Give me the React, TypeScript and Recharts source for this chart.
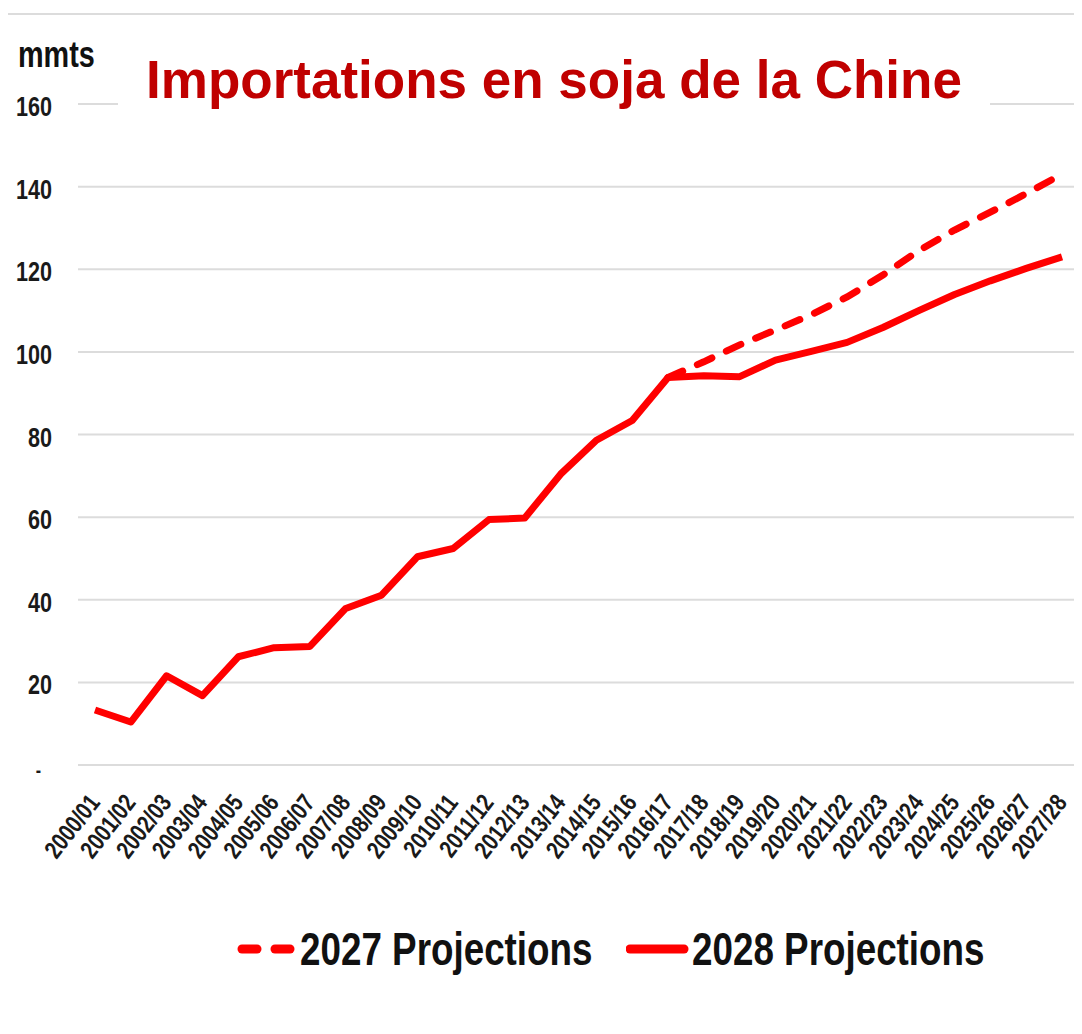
import { LineChart, Line, XAxis, YAxis, CartesianGrid } from 'recharts';

const seasons = [
  '2000/01', '2001/02', '2002/03', '2003/04', '2004/05', '2005/06', '2006/07',
  '2007/08', '2008/09', '2009/10', '2010/11', '2011/12', '2012/13', '2013/14',
  '2014/15', '2015/16', '2016/17', '2017/18', '2018/19', '2019/20', '2020/21',
  '2021/22', '2022/23', '2023/24', '2024/25', '2025/26', '2026/27', '2027/28',
];

// 2027 projections only start at 2016/17
const proj2027 = [
  null, null, null, null, null, null, null, null, null, null, null, null, null,
  null, null, null, 93.8, 97.6, 101.7, 105.3, 109, 113.3, 118.6, 124.5, 129.5,
  133.8, 138.3, 143,
];

const proj2028 = [
  13.3, 10.4, 21.6, 16.8, 26.2, 28.4, 28.7, 37.9, 41.1, 50.4, 52.4, 59.4, 59.8,
  70.4, 78.6, 83.4, 93.8, 94.2, 94, 98, 100.1, 102.3, 105.9, 110, 113.9, 117.2,
  120.2, 123,
];

const yTicks = [0, 20, 40, 60, 80, 100, 120, 140, 160];

const RED = '#ff0000';
const SANS = '"Liberation Sans", Arial, sans-serif';
// no narrow font installed, so squeeze Liberation Sans horizontally
const SQUEEZE = 0.8;

const data = seasons.map((s, i) => ({ season: s, p2027: proj2027[i], p2028: proj2028[i] }));

function YTick({ y, payload }: any) {
  const label = payload.value === 0 ? '-' : String(payload.value);
  const tx = payload.value === 0 ? 41 : 52;
  return (
    <text
      transform={`translate(${tx} ${y + 12}) scale(${SQUEEZE} 1)`}
      textAnchor="end"
      fontFamily={SANS}
      fontWeight="bold"
      fontSize={payload.value === 0 ? 20 : 27}
      fill="#1a1a1a"
    >
      {label}
    </text>
  );
}

function XTick({ x, y, payload }: any) {
  const tx = x + 6;
  const ty = y + 30;
  return (
    <text
      transform={`translate(${tx} ${ty}) rotate(-52) scale(${SQUEEZE} 1)`}
      textAnchor="end"
      fontFamily={SANS}
      fontWeight="bold"
      fontSize={25}
      fill="#1a1a1a"
    >
      {payload.value}
    </text>
  );
}

function LegendItem({ left, dashed, label }: { left: number; dashed: boolean; label: string }) {
  return (
    <div style={{ position: 'absolute', left, top: 922, display: 'flex', alignItems: 'center', whiteSpace: 'nowrap' }}>
      <svg width={66} height={20}>
        {dashed ? (
          <g stroke={RED} strokeWidth={9} strokeLinecap="round">
            <line x1={8} y1={10} x2={23} y2={10} />
            <line x1={41} y1={10} x2={56} y2={10} />
          </g>
        ) : (
          <line x1={4} y1={10} x2={58} y2={10} stroke={RED} strokeWidth={9} strokeLinecap="round" />
        )}
      </svg>
      <span
        style={{
          display: 'inline-block',
          fontFamily: SANS,
          fontWeight: 'bold',
          fontSize: 46,
          color: '#111',
          transform: `scaleX(${SQUEEZE})`,
          transformOrigin: 'left center',
        }}
      >
        {label}
      </span>
    </div>
  );
}

export default function App() {
  return (
    <div style={{ position: 'relative', width: 1082, height: 1034, margin: -8, overflow: 'hidden', background: '#fff' }}>
      <div
        style={{
          position: 'absolute',
          left: 4,
          top: 13,
          width: 1200,
          height: 1200,
          border: '2px solid #dcdcdc',
        }}
      />
      <LineChart width={1082} height={1034} data={data} margin={{ top: 104, right: 2, left: 18, bottom: 119 }}>
        <CartesianGrid horizontal vertical={false} stroke="#dcdcdc" strokeWidth={2} />
        <XAxis
          dataKey="season"
          interval={0}
          height={150}
          axisLine={false}
          tickLine={false}
          padding={{ left: 17, right: 18 }}
          tick={<XTick />}
        />
        <YAxis
          width={60}
          domain={[0, 160]}
          ticks={yTicks}
          axisLine={false}
          tickLine={false}
          tick={<YTick />}
        />
        <Line
          type="linear"
          dataKey="p2027"
          stroke={RED}
          strokeWidth={7}
          strokeDasharray="16 16"
          strokeLinecap="round"
          dot={false}
          connectNulls={false}
          isAnimationActive={false}
        />
        <Line
          type="linear"
          dataKey="p2028"
          stroke={RED}
          strokeWidth={7}
          strokeLinejoin="round"
          dot={false}
          isAnimationActive={false}
        />
      </LineChart>
      <div
        style={{
          position: 'absolute',
          left: 18,
          top: 34,
          fontFamily: SANS,
          fontWeight: 'bold',
          fontSize: 36,
          color: '#111',
          transform: `scaleX(${SQUEEZE})`,
          transformOrigin: 'left center',
        }}
      >
        mmts
      </div>
      <div
        style={{
          position: 'absolute',
          left: 118,
          top: 40,
          width: 872,
          height: 80,
          background: '#fff',
          textAlign: 'center',
          fontFamily: SANS,
          fontWeight: 'bold',
          fontSize: 53,
          color: '#c00000',
          lineHeight: '80px',
        }}
      >
        Importations en soja de la Chine
      </div>
      <LegendItem left={234} dashed label="2027 Projections" />
      <LegendItem left={626} dashed={false} label="2028 Projections" />
    </div>
  );
}
